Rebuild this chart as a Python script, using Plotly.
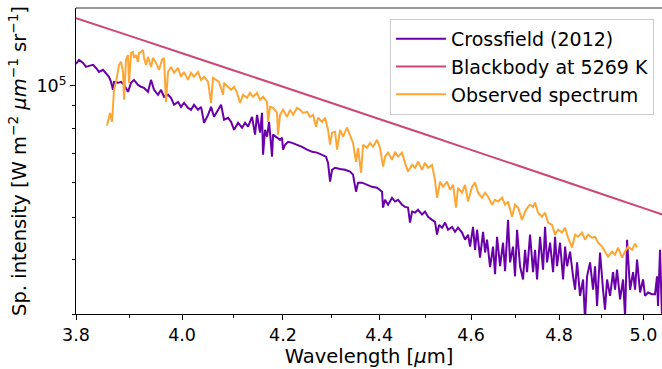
import plotly.graph_objects as go
import math

# Crossfield (2012) model spectrum
cf_wl = [3.800, 3.8056, 3.8131, 3.8184, 3.8240, 3.8316, 3.8369, 3.8425, 3.8499, 3.8555, 3.8611, 3.8649, 3.8686, 3.8705,
         3.8780, 3.8837, 3.8893, 3.8968, 3.9025, 3.9081, 3.9157, 3.9214, 3.9271, 3.9347, 3.9404, 3.9461, 3.9537, 3.9595,
         3.9652, 3.9729, 3.9787, 3.9845, 3.9922, 3.9980, 4.0038, 4.0116, 4.0174, 4.0232, 4.0310, 4.0369, 4.0428, 4.0506,
         4.0565, 4.0624, 4.0702, 4.0762, 4.0821, 4.0900, 4.0959, 4.1019, 4.1098, 4.1178, 4.1237, 4.1297, 4.1377, 4.1437,
         4.1477, 4.1537, 4.1577, 4.1598, 4.1638, 4.1678, 4.1719, 4.1779, 4.1799, 4.1880, 4.1941, 4.1982, 4.2002, 4.2043,
         4.2104, 4.2186, 4.2288, 4.2390, 4.2492, 4.2596, 4.2699, 4.2802, 4.2884, 4.2926, 4.2968, 4.3009, 4.3072, 4.3176,
         4.3280, 4.3385, 4.3448, 4.3511, 4.3553, 4.3638, 4.3743, 4.3849, 4.3955, 4.4062, 4.4083, 4.4126, 4.4190, 4.4275,
         4.4340, 4.4404, 4.4490, 4.4554, 4.4619, 4.4662, 4.4706, 4.4771, 4.4836, 4.4922, 4.4987, 4.5053, 4.5140, 4.5205,
         4.5249, 4.5294, 4.5360, 4.5425, 4.5491, 4.5579, 4.5645, 4.5711, 4.5800, 4.5867, 4.5933, 4.5978, 4.6044, 4.6089,
         4.6134, 4.6200, 4.6268, 4.6313, 4.6357, 4.6425, 4.6492, 4.6537, 4.6582, 4.6650, 4.6717, 4.6763, 4.6830, 4.6876,
         4.6944, 4.6989, 4.7035, 4.7103, 4.7171, 4.7217, 4.7263, 4.7331, 4.7400, 4.7446, 4.7492, 4.7561, 4.7630, 4.7676,
         4.7722, 4.7792, 4.7861, 4.7907, 4.7953, 4.8023, 4.8093, 4.8140, 4.8186, 4.8256, 4.8326, 4.8373, 4.8420, 4.8490,
         4.8561, 4.8607, 4.8654, 4.8725, 4.8796, 4.8843, 4.8890, 4.8961, 4.9032, 4.9079, 4.9127, 4.9198, 4.9269, 4.9317,
         4.9365, 4.9437, 4.9509, 4.9557, 4.9605, 4.9677, 4.9749, 4.9797, 4.9845, 4.9918, 4.9990, 5.0038, 5.0111, 5.0208,
         5.0281, 5.0329, 5.0353, 5.0402, 5.0450]
cf_int = [112300, 114700, 112900, 110500, 111100, 111700, 109900, 107600, 108800, 107100, 104900, 102100, 97900, 102100,
          101600, 102100, 100500, 96900, 101600, 103200, 100500, 99500, 98900, 96900, 103200, 97900, 95400, 97900,
          94400, 95400, 93900, 90500, 91900, 89500, 91400, 89000, 88100, 90500, 88100, 89500, 82300, 85800,
          89500, 84900, 88100, 90500, 83600, 84500, 82700, 79300, 82300, 80200, 82300, 80600, 84900, 77300,
          85800, 78100, 86700, 69500, 79300, 76500, 82700, 68800, 77300, 76100, 75200, 76100, 71400, 73300,
          74400, 74000, 73300, 72500, 71400, 70600, 70300, 69500, 68800, 66600, 60300, 64200, 64900, 64500,
          64200, 63600, 62600, 57200, 60000, 60000, 59300, 58700, 58400, 57200, 52600, 54800, 53400, 55400,
          54300, 54800, 53400, 52800, 52600, 48600, 51500, 51200, 52000, 50700, 51500, 50100, 49300, 48800,
          45600, 48000, 47300, 48600, 46800, 47500, 46300, 47300, 46100, 44400, 45600, 42800, 47500, 42100,
          46800, 40400, 46300, 41500, 44400, 38400, 42800, 37000, 45100, 38600, 43700, 37600, 49300, 39400,
          42800, 36600, 46800, 38600, 36000, 42100, 37400, 45600, 37400, 42100, 36000, 45100, 37900, 47500,
          39400, 43700, 37400, 45100, 38600, 43700, 36000, 42800, 38600, 41700, 36600, 34100, 39400, 33000,
          36000, 29000, 36600, 39400, 34100, 38600, 31300, 41500, 34100, 30700, 36000, 33000, 37400, 34100,
          37900, 32400, 36000, 29500, 44400, 34100, 37400, 34100, 40000, 33600, 36000, 33000, 33600, 33300,
          33300, 36600, 31300, 42100, 29500]

# Blackbody at 5269 K
bb_wl = [3.80, 3.90, 4.00, 4.10, 4.20, 4.30, 4.40, 4.50, 4.60, 4.70, 4.80, 4.90, 5.00, 5.05]
bb_int = [142944, 130174, 118789, 108617, 99509, 91330, 83973, 77337, 71344, 65920, 60998, 56527, 52456, 50558]

# Observed spectrum
ob_wl = [3.8574, 3.8611, 3.8630, 3.8668, 3.8686, 3.8705, 3.8743, 3.8780, 3.8799, 3.8837, 3.8874, 3.8893, 3.8930, 3.8968,
         3.8987, 3.9025, 3.9062, 3.9081, 3.9119, 3.9157, 3.9176, 3.9214, 3.9252, 3.9271, 3.9309, 3.9347, 3.9366, 3.9404,
         3.9442, 3.9499, 3.9557, 3.9614, 3.9652, 3.9691, 3.9729, 3.9787, 3.9845, 3.9922, 3.9980, 4.0038, 4.0116, 4.0174,
         4.0232, 4.0310, 4.0369, 4.0428, 4.0506, 4.0565, 4.0604, 4.0663, 4.0722, 4.0801, 4.0821, 4.0900, 4.0959, 4.1019,
         4.1078, 4.1138, 4.1197, 4.1277, 4.1337, 4.1397, 4.1477, 4.1537, 4.1598, 4.1678, 4.1698, 4.1739, 4.1799, 4.1880,
         4.1901, 4.1941, 4.2002, 4.2083, 4.2145, 4.2206, 4.2288, 4.2349, 4.2411, 4.2492, 4.2554, 4.2616, 4.2678, 4.2719,
         4.2802, 4.2864, 4.2926, 4.2968, 4.3009, 4.3072, 4.3114, 4.3176, 4.3239, 4.3322, 4.3385, 4.3448, 4.3511, 4.3553,
         4.3617, 4.3659, 4.3743, 4.3807, 4.3870, 4.3955, 4.4019, 4.4083, 4.4126, 4.4190, 4.4275, 4.4340, 4.4404, 4.4490,
         4.4554, 4.4619, 4.4706, 4.4771, 4.4836, 4.4922, 4.4987, 4.5053, 4.5140, 4.5205, 4.5249, 4.5316, 4.5381, 4.5469,
         4.5535, 4.5601, 4.5667, 4.5711, 4.5800, 4.5867, 4.5933, 4.6022, 4.6089, 4.6156, 4.6245, 4.6313, 4.6380, 4.6469,
         4.6537, 4.6605, 4.6695, 4.6763, 4.6830, 4.6921, 4.6989, 4.7058, 4.7148, 4.7217, 4.7286, 4.7331, 4.7400, 4.7446,
         4.7515, 4.7607, 4.7676, 4.7745, 4.7838, 4.7907, 4.7977, 4.8070, 4.8140, 4.8210, 4.8303, 4.8373, 4.8443, 4.8537,
         4.8607, 4.8678, 4.8772, 4.8843, 4.8914, 4.9008, 4.9079, 4.9150, 4.9246, 4.9317, 4.9389, 4.9485, 4.9557, 4.9629,
         4.9725, 4.9797, 4.9845]
ob_int = [81000, 84500, 86700, 82700, 89500, 97900, 102100, 107100, 111700, 113500, 107600, 92900, 114700, 117700,
          101600, 119000, 119600, 115900, 117700, 113500, 119000, 119600, 120900, 115900, 111700, 116500, 114700, 110500,
          115900, 112900, 108800, 114700, 115900, 91900, 107600, 110500, 107100, 109900, 104900, 107600, 103200, 107100,
          104900, 107600, 103200, 104900, 102100, 91400, 104300, 103200, 102100, 95400, 101600, 99500, 97900, 99500,
          96400, 91400, 95400, 93900, 96400, 94400, 96400, 92900, 94400, 91900, 82700, 89500, 89000, 86700,
          77300, 85800, 88100, 84900, 88100, 85800, 89000, 88100, 86700, 87200, 84900, 85800, 80600, 84500,
          82700, 84500, 79300, 73300, 78100, 78500, 71400, 79300, 76500, 80200, 77300, 74000, 67000, 72100,
          63200, 73300, 72100, 74000, 72500, 75200, 72100, 65300, 68800, 70300, 67700, 70600, 68800, 70300,
          66600, 63600, 65900, 64900, 67000, 64200, 66600, 64900, 65900, 60900, 55400, 60300, 58700, 60300,
          57800, 59300, 52600, 58400, 56900, 59300, 54300, 58700, 60000, 56900, 55400, 56900, 55700, 53400,
          54800, 54300, 55400, 53400, 54300, 50100, 53400, 52600, 49300, 51500, 52800, 53400, 52800, 54000,
          51200, 50100, 51200, 48600, 48000, 45600, 46800, 46100, 47300, 44900, 42600, 45600, 45100, 46100,
          44400, 45600, 44900, 45100, 43700, 42800, 41700, 40600, 41700, 41000, 42600, 40400, 41700, 42800,
          42100, 43500, 42600]

x_major = [3.8, 4.0, 4.2, 4.4, 4.6, 4.8, 5.0]
x_major_text = ["3.8", "4.0", "4.2", "4.4", "4.6", "4.8", "5.0"]
x_minor = [3.9, 4.1, 4.3, 4.5, 4.7, 4.9]
y_major = [1e5]
y_major_text = ["10<sup>5</sup>"]
y_minor = [3e4, 4e4, 5e4, 6e4, 7e4, 8e4, 9e4]

FONT = "DejaVu Sans"
TICK = 17.5
LAB = 19.5

fig = go.Figure()
fig.add_trace(go.Scatter(x=cf_wl, y=cf_int, mode="lines", name="Crossfield (2012)",
                         line=dict(color="#6a00a8", width=2)))
fig.add_trace(go.Scatter(x=bb_wl, y=bb_int, mode="lines", name="Blackbody at 5269 K",
                         line=dict(color="#cc4778", width=2), line_shape="spline"))
fig.add_trace(go.Scatter(x=ob_wl, y=ob_int, mode="lines", name="Observed spectrum",
                         line=dict(color="#fca636", width=2)))

fig.update_layout(
    width=662, height=369,
    margin=dict(l=76, r=0, t=8, b=55),
    paper_bgcolor="white", plot_bgcolor="white",
    font=dict(family=FONT, size=TICK, color="black"),
    showlegend=True,
    legend=dict(x=0.9863, y=0.964, xanchor="right", yanchor="top",
                bgcolor="rgba(255,255,255,0.85)", bordercolor="#cccccc", borderwidth=1,
                font=dict(family=FONT, size=19, color="black"), itemwidth=50),
    xaxis=dict(type="log", range=[math.log10(3.8), math.log10(5.045)],
               tickmode="array", tickvals=x_major, ticktext=x_major_text,
               ticks="outside", ticklen=5, tickwidth=1, tickcolor="black",
               showline=True, linecolor="black", linewidth=1, showgrid=False, zeroline=False,
               minor=dict(tickmode="array", tickvals=x_minor, ticks="outside", ticklen=3,
                          tickwidth=1, tickcolor="black", showgrid=False),
               title=dict(text="Wavelength [<i>μ</i>m]", font=dict(family=FONT, size=LAB), standoff=3),
               tickfont=dict(family=FONT, size=TICK)),
    yaxis=dict(type="log", range=[math.log10(3e4), math.log10(1.508e5)],
               tickmode="array", tickvals=y_major, ticktext=y_major_text,
               ticks="outside", ticklen=5, tickwidth=1, tickcolor="black",
               showline=True, linecolor="black", linewidth=1, showgrid=False, zeroline=False,
               minor=dict(tickmode="array", tickvals=y_minor, ticks="outside", ticklen=3,
                          tickwidth=1, tickcolor="black", showgrid=False),
               title=dict(text="Sp. intensity [W m<sup>−2</sup> <i>μm</i><sup>−1</sup> sr<sup>−1</sup>]",
                          font=dict(family=FONT, size=LAB), standoff=4),
               tickfont=dict(family=FONT, size=TICK)),
    shapes=[dict(type="line", xref="paper", yref="paper", x0=0, x1=1, y0=1, y1=1,
                 line=dict(color="#777777", width=1.5))],
)

fig.write_html("out.html")
